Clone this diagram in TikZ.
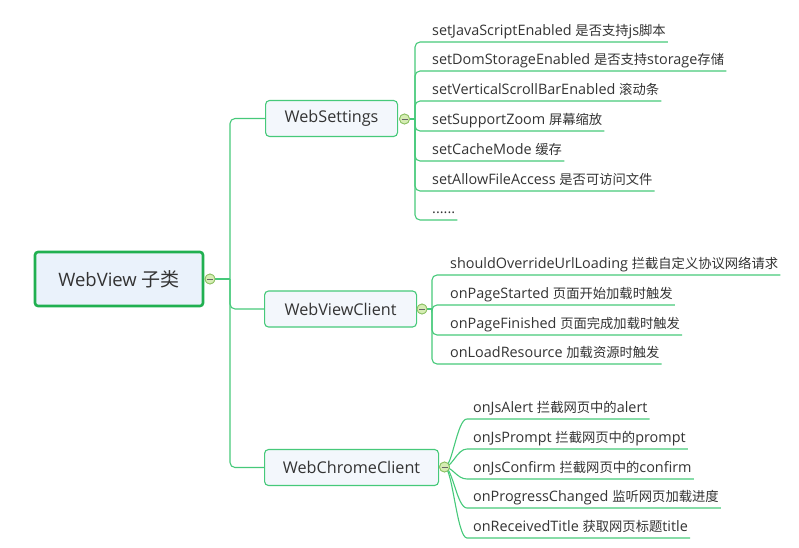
\documentclass[tikz,border=0pt]{standalone}
\usepackage{fontspec}
\setmainfont{Open Sans}
\newfontfamily\cjkfont{Noto Sans CJK SC}
\newcommand{\zh}[1]{{\cjkfont\fontsize{13.3}{15}\selectfont #1}}
\definecolor{lgreen}{HTML}{46C97A}
\definecolor{rgreen}{HTML}{20B050}
\definecolor{rootfill}{HTML}{EAF2FB}
\definecolor{boxfill}{HTML}{F3F7FC}
\definecolor{txt}{HTML}{333333}
\definecolor{cfill}{HTML}{D6EDB4}
\definecolor{cdraw}{HTML}{8CC063}
\begin{document}
\begin{tikzpicture}[x=1pt,y=-1pt,
  rootbox/.style={draw=rgreen,line width=2.6pt,fill=rootfill,rounded corners=3pt,
    minimum width=168pt,minimum height=54pt,font=\fontsize{18.5}{22}\selectfont,text=txt},
  mbox/.style={draw=lgreen,line width=1.1pt,fill=boxfill,rounded corners=4pt,
    minimum height=36pt,anchor=west,font=\fontsize{16.2}{18}\selectfont,text=txt},
  minus/.style={circle,draw=cdraw,fill=cfill,line width=0.8pt,minimum size=10pt,inner sep=0pt,
    path picture={\draw[gray!80!black,line width=0.8pt] ([xshift=-3pt]path picture bounding box.center) -- ([xshift=3pt]path picture bounding box.center);}},
  leaf/.style={anchor=south west,inner xsep=2pt,inner ysep=3pt,text height=10.5pt,text depth=3pt,
    font=\fontsize{14.4}{16}\selectfont,text=txt},
  link/.style={draw=lgreen,line width=1.1pt,rounded corners=5pt},
  curvelink/.style={draw=lgreen,line width=1.1pt},
]
\useasboundingbox (0,0) rectangle (799,547);

% root
\node[rootbox] (root) at (119,279) {WebView {\cjkfont\fontsize{19}{22}\selectfont 子类}};
\node[minus] (rc) at (210,279) {};
\coordinate (j0) at (230,279);

% main boxes
\node[mbox,minimum width=132pt] (ws) at (265,118.5) {WebSettings};
\node[mbox,minimum width=152pt] (wvc) at (264,309) {WebViewClient};
\node[mbox,minimum width=174pt] (wcc) at (264,467.5) {WebChromeClient};

\draw[link] (rc) -- (j0);
\draw[link] (j0) |- (ws.west);
\draw[link] (j0) |- (wvc.west);
\draw[link] (j0) |- (wcc.west);

% WebSettings children
\node[minus] (wsm) at (404.5,119) {};
\coordinate (j1) at (415,119);
\draw[link] (wsm) -- (j1);
\node[leaf] (s1) at (430,42) {setJavaScriptEnabled \zh{是否支持}js\zh{脚本}};
\node[leaf] (s2) at (430,71) {setDomStorageEnabled \zh{是否支持}storage\zh{存储}};
\node[leaf] (s3) at (430,101) {setVerticalScrollBarEnabled \zh{滚动条}};
\node[leaf] (s4) at (430,131) {setSupportZoom \zh{屏幕缩放}};
\node[leaf] (s5) at (430,161) {setCacheMode \zh{缓存}};
\node[leaf] (s6) at (430,191) {setAllowFileAccess \zh{是否可访问文件}};
\node[leaf] (s7) at (430,220) {......};
\foreach \n in {s1,s2,s3,s4,s5,s6,s7}{
  \draw[link] (j1) |- (\n.south west) -- (\n.south east);
}

% WebViewClient children
\node[minus] (wvm) at (422,309) {};
\coordinate (j2) at (432,309);
\draw[link] (wvm) -- (j2);
\node[leaf] (v1) at (448,275) {shouldOverrideUrlLoading \zh{拦截自定义协议网络请求}};
\node[leaf] (v2) at (448,305) {onPageStarted \zh{页面开始加载时触发}};
\node[leaf] (v3) at (448,335) {onPageFinished \zh{页面完成加载时触发}};
\node[leaf] (v4) at (448,364) {onLoadResource \zh{加载资源时触发}};
\foreach \n in {v1,v2,v3,v4}{
  \draw[link] (j2) |- (\n.south west) -- (\n.south east);
}

% WebChromeClient children
\node[minus] (wcm) at (444.5,467) {};
\node[leaf] (c1) at (471,419) {onJsAlert \zh{拦截网页中的}alert};
\node[leaf] (c2) at (471,449) {onJsPrompt \zh{拦截网页中的}prompt};
\node[leaf] (c3) at (471,479) {onJsConfirm \zh{拦截网页中的}confirm};
\node[leaf] (c4) at (471,508) {onProgressChanged \zh{监听网页加载进度}};
\node[leaf] (c5) at (471,538) {onReceivedTitle \zh{获取网页标题}title};
\foreach \n in {c1,c2,c3,c4,c5}{
  \draw[curvelink] (wcm.center) .. controls ([xshift=8pt]wcm.center) and ([xshift=-14pt]\n.south west) .. ([xshift=-4pt]\n.south west) -- (\n.south east);
}
\node[minus] at (wcm) {};
\node[minus] at (wsm) {};
\node[minus] at (wvm) {};
\node[minus] at (rc) {};
\end{tikzpicture}
\end{document}
